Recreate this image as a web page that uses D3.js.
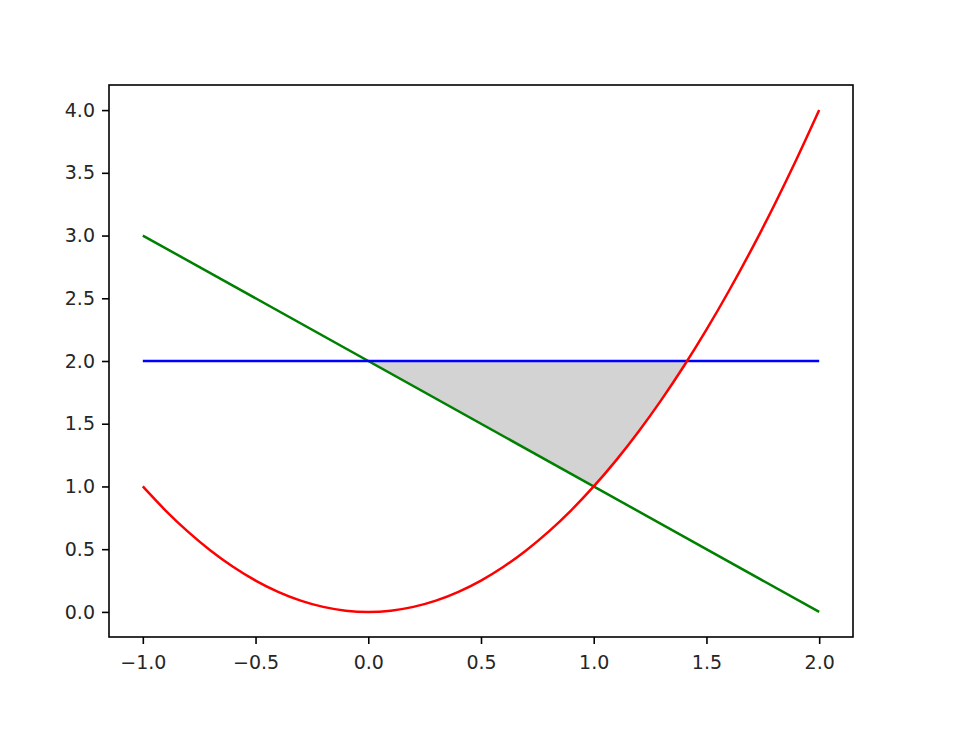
<!DOCTYPE html>
<html><head><meta charset="utf-8">
<script src="https://cdn.jsdelivr.net/npm/d3@7"></script>
<style>body{margin:0;background:#fff}svg{display:block}</style>
</head><body>
<script>
// Data
const curveX = [-1.0,-0.9,-0.8,-0.7,-0.6,-0.5,-0.4,-0.3,-0.2,-0.1,0.0,0.1,0.2,0.3,0.4,0.5,0.6,0.7,0.8,0.9,1.0,1.1,1.2,1.3,1.4,1.5,1.6,1.7,1.8,1.9,2.0];
const redY   = [1.00,0.81,0.64,0.49,0.36,0.25,0.16,0.09,0.04,0.01,0.00,0.01,0.04,0.09,0.16,0.25,0.36,0.49,0.64,0.81,1.00,1.21,1.44,1.69,1.96,2.25,2.56,2.89,3.24,3.61,4.00];
const greenX = [-1.0, 2.0];
const greenY = [3.0, 0.0];
const blueX  = [-1.0, 2.0];
const blueY  = [2.0, 2.0];
const shadeX    = [0.0, 0.5, 1.0, 1.05, 1.1, 1.15, 1.2, 1.25, 1.3, 1.35, 1.4, 1.414];
const shadeLow  = [2.0, 1.5, 1.0, 1.1025, 1.21, 1.3225, 1.44, 1.5625, 1.69, 1.8225, 1.96, 2.0];
const shadeHigh = [2.0, 2.0, 2.0, 2.0, 2.0, 2.0, 2.0, 2.0, 2.0, 2.0, 2.0, 2.0];
const xTicks = [-1.0,-0.5,0.0,0.5,1.0,1.5,2.0];
const yTicks = [0.0,0.5,1.0,1.5,2.0,2.5,3.0,3.5,4.0];

const W = 973, H = 753;
const L = 109, R = 853, T = 85, B = 637;
const svg = d3.select("body").append("svg").attr("width", W).attr("height", H);
const x = d3.scaleLinear().domain([-1.15, 2.15]).range([L, R]);
const y = d3.scaleLinear().domain([-0.2, 4.2]).range([B, T]);

const g = svg.append("g");
// shaded area
const shade = shadeX.map((v,i)=>({x:v, lo:shadeLow[i], hi:shadeHigh[i]}));
g.append("path").datum(shade)
  .attr("d", d3.area().x(d=>x(d.x)).y0(d=>y(d.lo)).y1(d=>y(d.hi)))
  .attr("fill", "#d3d3d3").attr("stroke", "none");

const line = d3.line().x(d=>x(d[0])).y(d=>y(d[1]));
g.append("path").datum(greenX.map((v,i)=>[v,greenY[i]]))
  .attr("d", line).attr("fill","none").attr("stroke","#008000").attr("stroke-width",2.5);
g.append("path").datum(blueX.map((v,i)=>[v,blueY[i]]))
  .attr("d", line).attr("fill","none").attr("stroke","#0000ff").attr("stroke-width",2.5);
g.append("path").datum(curveX.map((v,i)=>[v,redY[i]]))
  .attr("d", d3.line().x(d=>x(d[0])).y(d=>y(d[1])).curve(d3.curveCatmullRom))
  .attr("fill","none").attr("stroke","#ff0000").attr("stroke-width",2.5);

// axes
const fmt = d3.format(".1f");
const xa = svg.append("g").attr("transform", `translate(0,${B})`)
  .call(d3.axisBottom(x).tickValues(xTicks).tickFormat(fmt).tickSize(7).tickPadding(7));
const ya = svg.append("g").attr("transform", `translate(${L},0)`)
  .call(d3.axisLeft(y).tickValues(yTicks).tickFormat(fmt).tickSize(7).tickPadding(7));
[xa, ya].forEach(a => {
  a.select(".domain").remove();
  a.selectAll("line").attr("stroke","#000").attr("stroke-width",1.6);
  a.selectAll("text").attr("fill","#262626").style("font-family","'DejaVu Sans', sans-serif").style("font-size","19px");
});
xa.selectAll("text").attr("dy","0.95em");
svg.append("rect").attr("x",L).attr("y",T).attr("width",R-L).attr("height",B-T)
  .attr("fill","none").attr("stroke","#000").attr("stroke-width",1.6);
</script>
</body></html>
